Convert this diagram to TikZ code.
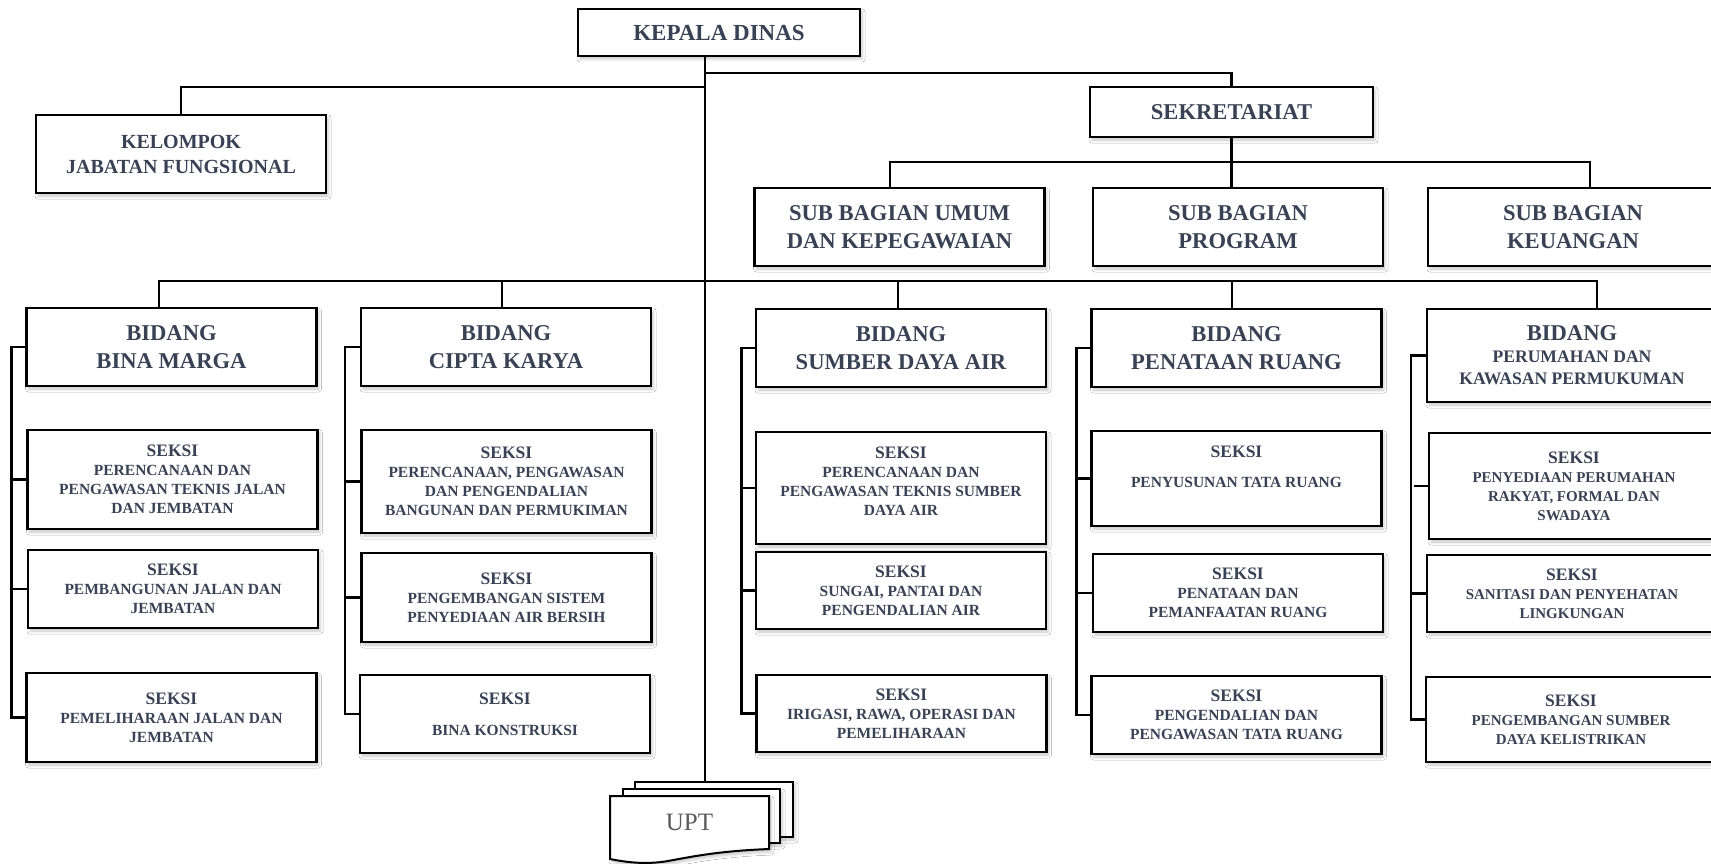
\documentclass[tikz,border=0pt]{standalone}
\usepackage{fontspec}
\setmainfont{Liberation Serif}
\usetikzlibrary{shadows.blur}
\definecolor{slate}{RGB}{56,66,84}
\definecolor{uptgray}{RGB}{89,89,89}
\newcommand\seksi[1]{{\fontsize{17.5}{19}\selectfont SEKSI}\\#1}

\tikzset{
  unit/.style={draw, line width=2.2pt, fill=white, align=center, inner sep=0pt, text=slate,
    blur shadow={shadow xshift=2pt, shadow yshift=-3pt, shadow blur radius=3pt, shadow opacity=22}},
  topbox/.style={unit, minimum width=282pt, minimum height=47pt, font=\fontsize{23}{27}\selectfont\bfseries},
  fungbox/.style={unit, minimum width=290pt, minimum height=78pt, font=\fontsize{20}{25}\selectfont\bfseries},
  sekbox/.style={unit, minimum width=283pt, minimum height=50pt, font=\fontsize{22.6}{27}\selectfont\bfseries},
  subbox/.style={unit, minimum width=290pt, minimum height=78pt, font=\fontsize{22.6}{27.6}\selectfont\bfseries},
  bidbox/.style={unit, minimum width=290pt, minimum height=78pt, font=\fontsize{22.6}{28}\selectfont\bfseries},
  seksibox/.style={unit, minimum width=290pt, font=\fontsize{15.5}{19}\selectfont\bfseries},
  pkpfont/.style={font=\fontsize{15}{19}\selectfont\bfseries},
  uptpage/.style={draw, line width=2pt, fill=white, inner sep=0pt,
    blur shadow={shadow xshift=2pt, shadow yshift=-3pt, shadow blur radius=3pt, shadow opacity=22}},
  conn/.style={line width=2.2pt}
}

\begin{document}
\begin{tikzpicture}[x=1pt, y=-1pt]
    \useasboundingbox (0,0) rectangle (1711,864);
    \clip (0,0) rectangle (1711,864);
    \fill[white] (0,0) rectangle (1711,864);

    \node[topbox] (kepala) at (719,32.5) {KEPALA DINAS};
    \node[fungbox] (kelompok) at (181,154) {KELOMPOK\\JABATAN FUNGSIONAL};
    \node[sekbox] (sekre) at (1231.5,112) {SEKRETARIAT};

    \node[subbox] (umum) at (899.5,227) {SUB BAGIAN UMUM\\DAN KEPEGAWAIAN};
    \node[subbox] (program) at (1238,227) {SUB BAGIAN\\PROGRAM};
    \node[subbox] (keu) at (1573,227) {SUB BAGIAN\\KEUANGAN};

    \node[bidbox] (bm) at (171.5,347) {BIDANG\\BINA MARGA};
    \node[bidbox] (ck) at (506,347) {BIDANG\\CIPTA KARYA};
    \node[bidbox] (sda) at (901,348) {BIDANG\\SUMBER DAYA AIR};
    \node[bidbox] (pr) at (1236.5,348) {BIDANG\\PENATAAN RUANG};
    \node[bidbox, minimum height=93pt, font=\fontsize{17.6}{22}\selectfont\bfseries] (pkp) at (1572,355.5)
      {{\fontsize{22.6}{22}\selectfont BIDANG}\\PERUMAHAN DAN\\KAWASAN PERMUKUMAN};

    \node[seksibox, minimum height=99pt] (bm1) at (172.5,479.5) {\seksi{PERENCANAAN DAN\\PENGAWASAN TEKNIS JALAN\\DAN JEMBATAN}};
    \node[seksibox, minimum height=78pt] (bm2) at (173,589) {\seksi{PEMBANGUNAN JALAN DAN\\JEMBATAN}};
    \node[seksibox, minimum height=89pt] (bm3) at (171.5,717.5) {\seksi{PEMELIHARAAN JALAN DAN\\JEMBATAN}};

    \node[seksibox, minimum height=103pt] (ck1) at (506.5,481.5) {\seksi{PERENCANAAN, PENGAWASAN\\DAN PENGENDALIAN\\BANGUNAN DAN PERMUKIMAN}};
    \node[seksibox, minimum height=89pt] (ck2) at (506.5,597.5) {\seksi{PENGEMBANGAN SISTEM\\PENYEDIAAN AIR BERSIH}};
    \node[seksibox, minimum height=78pt] (ck3) at (505,714) {{\fontsize{17.5}{19}\selectfont SEKSI}\\[12pt]BINA KONSTRUKSI};

    \node[seksibox, minimum height=112pt] (sda1) at (901,488) {\seksi{PERENCANAAN DAN\\PENGAWASAN TEKNIS SUMBER\\DAYA AIR\\[-5pt]~}};
    \node[seksibox, minimum height=77pt] (sda2) at (901,590.5) {\seksi{SUNGAI, PANTAI DAN\\PENGENDALIAN AIR}};
    \node[seksibox, minimum height=77pt] (sda3) at (901.5,713.5) {\seksi{IRIGASI, RAWA, OPERASI DAN\\PEMELIHARAAN}};

    \node[seksibox, minimum height=95pt] (pr1) at (1236.5,478.5) {{\fontsize{17.5}{19}\selectfont SEKSI}\\[11pt]PENYUSUNAN TATA RUANG\\[4pt]~};
    \node[seksibox, minimum height=78pt] (pr2) at (1238,593) {\seksi{PENATAAN DAN\\PEMANFAATAN RUANG}};
    \node[seksibox, minimum height=78pt] (pr3) at (1236.5,715) {\seksi{PENGENDALIAN DAN\\PENGAWASAN TATA RUANG}};

    \node[seksibox, pkpfont, minimum height=106pt] (pkp1) at (1574,486) {\seksi{PENYEDIAAN PERUMAHAN\\RAKYAT, FORMAL DAN\\SWADAYA}};
    \node[seksibox, pkpfont, minimum height=77pt] (pkp2) at (1572,593.5) {\seksi{SANITASI DAN PENYEHATAN\\LINGKUNGAN}};
    \node[seksibox, pkpfont, minimum height=85pt] (pkp3) at (1571,719.5) {\seksi{PENGEMBANGAN SUMBER\\DAYA KELISTRIKAN}};

    \node[uptpage, minimum width=158pt, minimum height=55pt] (uptback) at (714,809.5) {};
    \node[uptpage, minimum width=157pt, minimum height=54pt] (uptmid) at (701.5,816) {};
    \draw[uptpage] (610,796) -- (769,796) -- (769,849)
      .. controls (720,851) and (695,856) .. (668,861)
      .. controls (645,865) and (625,862) .. (610,859) -- cycle;
    \node[text=uptgray, font=\fontsize{25}{30}\selectfont] (upt) at (689.5,822) {UPT};

    \coordinate (sekbar) at (705,73);
    \coordinate (jfung) at (705,87);
    \coordinate (bidbar) at (705,281);

    \draw[conn] ([xshift=-14pt]kepala.south) -- (uptback.north -| bidbar);
    \draw[conn] (kelompok.north) |- (jfung);
    \draw[conn] (sekre.north) |- (sekbar);
    \draw[conn] (sekre.south) -- (sekre.south |- program.north);
    \draw[conn] ([xshift=-9.5pt]umum.north) |- ([yshift=-24pt]sekre.south) -| ([xshift=17pt]keu.north);

    \draw[conn] ([xshift=-12.5pt]bm.north) |- (bidbar);
    \draw[conn] ([xshift=-4pt]ck.north) |- (bidbar);
    \draw[conn] ([xshift=-3pt]sda.north) |- (bidbar);
    \draw[conn] ([xshift=-4.5pt]pr.north) |- (bidbar);
    \draw[conn] ([xshift=25pt]pkp.north) |- (bidbar);

    \foreach \col in {bm,ck,sda,pr,pkp}{
      \draw[conn] (\col.west) -| ([xshift=-14pt]\col3.west) -- (\col3.west);
      \draw[conn] (\col1.west) -- ++(-14pt,0);
      \draw[conn] (\col2.west) -- ++(-14pt,0);
    }
\end{tikzpicture}
\end{document}
